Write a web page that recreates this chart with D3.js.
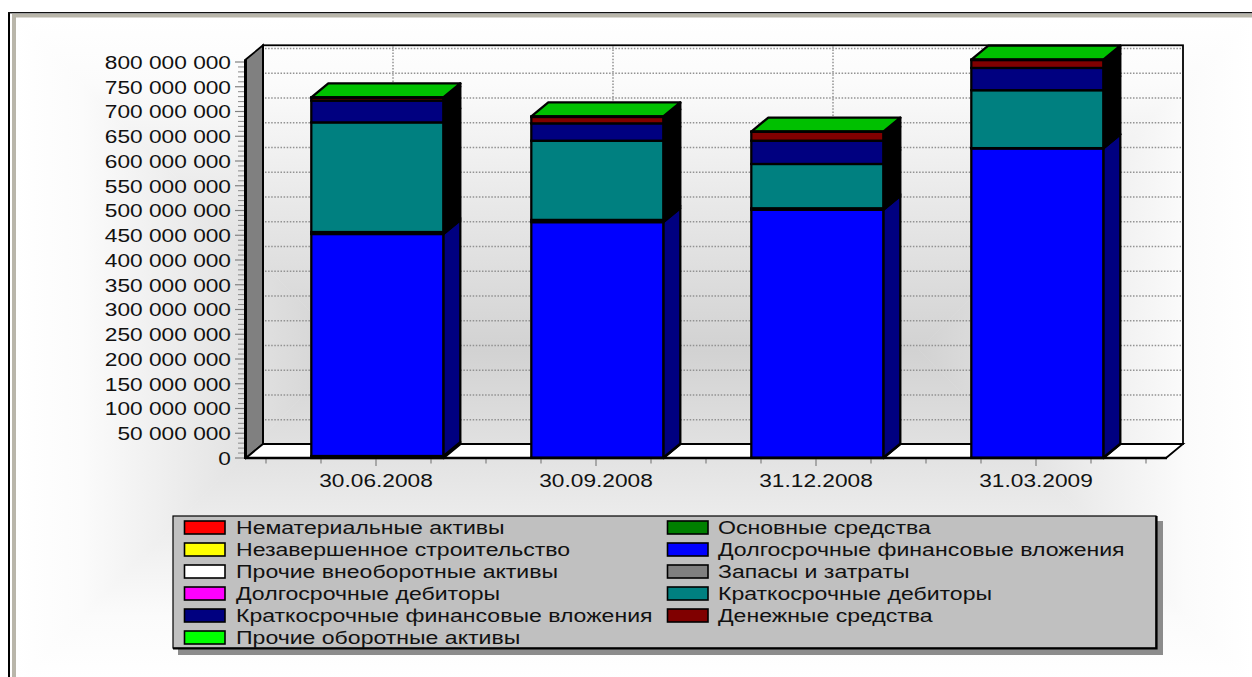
<!DOCTYPE html>
<html><head><meta charset="utf-8">
<style>html,body{margin:0;padding:0;background:#fff;overflow:hidden}svg{display:block}text{font-family:"Liberation Sans",Arial,sans-serif;fill:#111}</style>
<script src="https://cdnjs.cloudflare.com/ajax/libs/d3/7.8.5/d3.min.js"></script>
</head><body><svg id="c" width="1252" height="677"></svg>
<script>
const categories = ["30.06.2008","30.09.2008","31.12.2008","31.03.2009"];
const seriesNames = ["Нематериальные активы","Основные средства","Незавершенное строительство","Долгосрочные финансовые вложения","Прочие внеоборотные активы","Запасы и затраты","Долгосрочные дебиторы","Краткосрочные дебиторы","Краткосрочные финансовые вложения","Денежные средства","Прочие оборотные активы"];
const intangible   = [0,0,0,0];
const fixedAssets  = [4000000,500000,500000,500000];
const construction = [0,0,0,0];
const longInvest   = [448500000,476000000,501000000,625000000];
const otherNonCur  = [0,0,0,0];
const inventories  = [4000000,4500000,3000000,500000];
const longDebtors  = [0,0,0,0];
const shortDebtors = [221500000,160000000,89500000,117000000];
const shortInvest  = [44000000,35000000,47000000,45000000];
const cash         = [6000000,13000000,18000000,16000000];
const otherCurrent = [500000,1000000,500000,1000000];
const seriesValues = [intangible,fixedAssets,construction,longInvest,otherNonCur,inventories,longDebtors,shortDebtors,shortInvest,cash,otherCurrent];
const seriesColors = ["#ff0000","#008000","#ffff00","#0000ff","#ffffff","#808080","#ff00ff","#008080","#000080","#800000","#00ff00"];
const sideColors   = ["#800000","#004000","#808000","#000080","#808080","#000000","#800080","#000000","#000000","#000000","#000000"];
const topColor = "#00c000";
const yTicks = d3.range(0,800000001,50000000);

const svg = d3.select("#c");
const defs = svg.append("defs");
const W=1252,H=677;
// background: inset rectangular gradient
const bx0=16,by0=17,bx1=1252,by1=683,cy=(by0+by1)/2,ins=(by1-by0)/2;
function grad(id,x1,y1,x2,y2){
  const g=defs.append("linearGradient").attr("id",id).attr("gradientUnits","userSpaceOnUse")
    .attr("x1",x1).attr("y1",y1).attr("x2",x2).attr("y2",y2);
  g.append("stop").attr("offset",0).attr("stop-color","#ffffff");
  g.append("stop").attr("offset",.2).attr("stop-color","#fbfbfb");
  g.append("stop").attr("offset",1).attr("stop-color","#d2d2d2");
}
grad("gl",bx0,0,bx0+ins,0);grad("gr",bx1,0,bx1-ins,0);grad("gt",0,by0,0,cy);grad("gb",0,by1,0,cy);
const bgPolys=[
 ["gl",[[bx0,by0],[bx0+ins,cy],[bx0,by1]]],
 ["gr",[[bx1,by0],[bx1-ins,cy],[bx1,by1]]],
 ["gt",[[bx0,by0],[bx1,by0],[bx1-ins,cy],[bx0+ins,cy]]],
 ["gb",[[bx0,by1],[bx1,by1],[bx1-ins,cy],[bx0+ins,cy]]]];
svg.selectAll("polygon.bg").data(bgPolys).join("polygon").attr("class","bg")
  .attr("points",d=>d[1].join(" ")).attr("fill",d=>`url(#${d[0]})`).attr("stroke",d=>`url(#${d[0]})`).attr("stroke-width",.5);
// frame
svg.append("rect").attr("x",12).attr("y",14).attr("width",4).attr("height",H-14).attr("fill","#b9b6aa");
svg.append("rect").attr("x",12).attr("y",14).attr("width",W-12).attr("height",3.5).attr("fill","#b9b6aa");
svg.append("rect").attr("x",8).attr("y",12).attr("width",2).attr("height",H-12).attr("fill","#000");
svg.append("rect").attr("x",8).attr("y",12).attr("width",W-8).attr("height",1.4).attr("fill","#111");

// scales
const x = d3.scaleBand().domain(categories).range([266,1146]).paddingInner(0).paddingOuter(0);
const y = d3.scaleLinear().domain([0,800000000]).range([458,62]);
const DX=17,DY=-14,barW=x.bandwidth()*0.6,barShift=1.3;
const L=246,R=1166,Y0=y(0),YT=y(805500000);
const FS=19, SX=1.195;
const SW=2.3;
// walls
svg.append("polygon").attr("points",[[L,YT],[L+DX,YT+DY],[L+DX,Y0+DY],[L,Y0]].join(" ")).attr("fill","#808080").attr("stroke","#000").attr("stroke-width",1.8);
svg.append("polygon").attr("points",[[L,Y0],[L+DX,Y0+DY],[R+DX,Y0+DY],[R,Y0]].join(" ")).attr("fill","#fff").attr("stroke","#000").attr("stroke-width",1.8);
svg.append("rect").attr("x",L+DX).attr("y",YT+DY).attr("width",R-L).attr("height",Y0-YT).attr("fill","none").attr("stroke","#000").attr("stroke-width",1.8);
// grid
const gridG=svg.append("g").attr("stroke","#929292").attr("stroke-width",1.5).attr("stroke-dasharray","1.5 1.6");
gridG.selectAll("line.h").data(yTicks.slice(1)).join("line").attr("class","h")
  .attr("x1",L+DX+2).attr("x2",R+DX-1).attr("y1",d=>y(d)+DY+.5).attr("y2",d=>y(d)+DY+.5);
gridG.selectAll("line.v").data(categories).join("line").attr("class","v")
  .attr("x1",d=>x(d)+x.bandwidth()/2+DX).attr("x2",d=>x(d)+x.bandwidth()/2+DX).attr("y1",YT+DY+1).attr("y2",Y0+DY-1);

// bars
const rows = categories.map((c,i)=>{const o={cat:c};seriesNames.forEach((s,k)=>o[s]=seriesValues[k][i]);return o;});
const stacked = d3.stack().keys(seriesNames)(rows);
const barG=svg.append("g");
categories.forEach((c,i)=>{
  const g=barG.append("g");
  const bx=x(c)+(x.bandwidth()-barW)/2+barShift;
  stacked.forEach((s,k)=>{
    const v0=s[i][0],v1=s[i][1]; if(v1-v0<=0) return;
    const yb=y(v0),yt=y(v1);
    g.append("polygon").attr("points",[[bx+barW,yb],[bx+barW+DX,yb+DY],[bx+barW+DX,yt+DY],[bx+barW,yt]].join(" "))
      .attr("fill",sideColors[k]).attr("stroke","#000").attr("stroke-width",SW).attr("stroke-linejoin","round");
  });
  const total=stacked[stacked.length-1][i][1],yt=y(total);
  g.append("polygon").attr("points",[[bx,yt],[bx+DX,yt+DY],[bx+barW+DX,yt+DY],[bx+barW,yt]].join(" "))
    .attr("fill",topColor).attr("stroke","#000").attr("stroke-width",SW).attr("stroke-linejoin","round");
  stacked.forEach((s,k)=>{
    const v0=s[i][0],v1=s[i][1]; if(v1-v0<=0) return;
    g.append("rect").attr("x",bx).attr("width",barW).attr("y",y(v1)).attr("height",y(v0)-y(v1))
      .attr("fill",seriesColors[k]).attr("stroke","#000").attr("stroke-width",SW);
  });
});

// y axis
const yAxis=d3.axisLeft(y).tickValues(yTicks).tickSize(10).tickPadding(0).offset(0)
  .tickFormat(d=>d3.format(",")(d).replace(/,/g," "));
const minorY=d3.range(0,800000000,10000000).filter(v=>v%50000000!==0);
const gy=svg.append("g").attr("transform",`translate(${L-1},0)`);
gy.selectAll("line.m").data(minorY).join("line").attr("class","m").attr("x1",-7).attr("x2",0).attr("y1",d=>y(d)).attr("y2",d=>y(d)).attr("stroke","#8a8a8a").attr("stroke-width",1);
const gy2=gy.append("g").call(yAxis);
gy2.select(".domain").remove();
gy2.selectAll("line").attr("stroke","#808080").attr("stroke-width",1.2);
gy2.selectAll("text").attr("x",0).attr("dy",null).attr("y",FS*0.36).attr("font-size",FS).attr("text-anchor","end")
  .attr("font-family","Liberation Sans").attr("transform",`translate(-14,0) scale(${SX},1)`).style("fill","#111");
svg.append("line").attr("x1",L-.5).attr("x2",L-.5).attr("y1",YT).attr("y2",Y0+1).attr("stroke","#000").attr("stroke-width",3);

// x axis
const xAxis=d3.axisBottom(x).tickSize(8).tickPadding(0).offset(0);
const minorX=d3.range(0,categories.length*4+1).map(i=>x.range()[0]+i*x.step()/4).filter((v,i)=>i%4!==2);
const gx=svg.append("g").attr("transform",`translate(0,${Y0})`);
gx.selectAll("line.m").data(minorX).join("line").attr("class","m").attr("x1",d=>d).attr("x2",d=>d).attr("y1",0).attr("y2",5.5).attr("stroke","#808080").attr("stroke-width",1.2);
const gx2=gx.append("g").call(xAxis);
gx2.select(".domain").remove();
gx2.selectAll("line").attr("stroke","#808080").attr("stroke-width",1.2);
gx2.selectAll("text").attr("y",0).attr("dy",null).attr("font-size",FS).attr("text-anchor","middle")
  .attr("font-family","Liberation Sans").attr("transform",`translate(0,29) scale(${SX},1)`).style("fill","#111");
svg.append("line").attr("x1",L).attr("x2",R+1).attr("y1",Y0).attr("y2",Y0).attr("stroke","#000").attr("stroke-width",2.6);

// legend
const lg=svg.append("g");
lg.append("rect").attr("x",178).attr("y",521).attr("width",985).attr("height",134).attr("fill","#8c8c8c");
lg.append("rect").attr("x",173).attr("y",516).attr("width",983).attr("height",132).attr("fill","#c0c0c0").attr("stroke","#000").attr("stroke-width",1.2);
lg.append("path").attr("d","M173 648.5H1156.5V516").attr("fill","none").attr("stroke","#000").attr("stroke-width",2.2);
const colSw=[184.5,667.5],colTx=[236,718],rowY=i=>527.5+22*i;
seriesNames.forEach((n,k)=>{
  const c=k%2,r=Math.floor(k/2);
  lg.append("rect").attr("x",colSw[c]).attr("y",rowY(r)-6.5).attr("width",40.5).attr("height",13)
    .attr("fill",seriesColors[k]).attr("stroke","#000").attr("stroke-width",1.6);
  lg.append("text").text(n).attr("font-size",18.5).attr("y",6.5)
    .attr("transform",`translate(${colTx[c]},${rowY(r)}) scale(1.247,1)`).style("fill","#111");
});
</script></body></html>
